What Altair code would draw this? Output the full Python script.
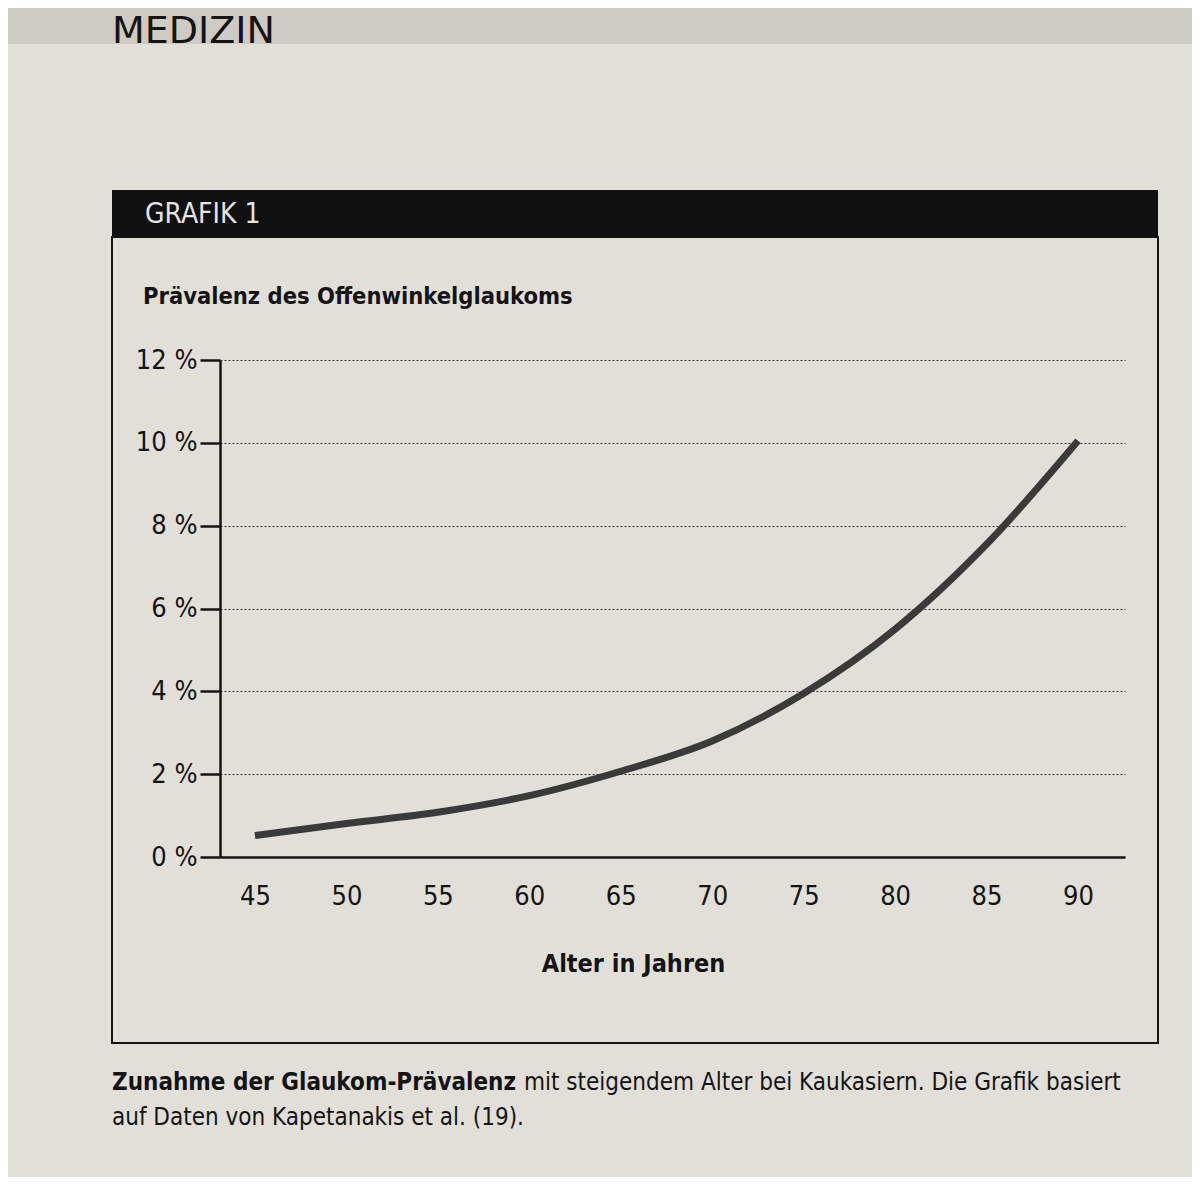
import altair as alt
import pandas as pd

# ---- data ----
ages = [45, 50, 55, 60, 65, 70, 75, 80, 85, 90]
prevalence = [0.52, 0.81, 1.08, 1.48, 2.07, 2.80, 3.95, 5.50, 7.55, 10.05]
y_ticks = [0, 2, 4, 6, 8, 10, 12]
x_ticks = [45, 50, 55, 60, 65, 70, 75, 80, 85, 90]

title_text = "Prävalenz des Offenwinkelglaukoms"
x_title = "Alter in Jahren"
header_text = "GRAFIK 1"
section_text = "MEDIZIN"
caption_bold = "Zunahme der Glaukom-Prävalenz"
caption_rest = "mit steigendem Alter bei Kaukasiern. Die Grafik basiert"
caption_line2 = "auf Daten von Kapetanakis et al. (19)."

FONT = "DejaVu Sans Condensed, Liberation Sans, sans-serif"
INK = "#141414"
PAPER = "#e2dfd8"

df = pd.DataFrame({"age": ages, "prev": prevalence})
one = pd.DataFrame({"k": [0]})

curve = alt.Chart(df).mark_line(
    color="#3a3a3a", strokeWidth=7, interpolate="monotone"
).encode(
    x=alt.X(
        "age:Q",
        scale=alt.Scale(domain=[43.09, 92.57], nice=False, zero=False),
        axis=alt.Axis(
            values=x_ticks, title=x_title, grid=False, ticks=False,
            labelPadding=26, labelFontSize=27, labelFont=FONT, labelColor=INK,
            domainColor=INK, domainWidth=2.5,
            titleX=413, titleY=106, titleBaseline="middle", titleAlign="center",
            titleFontSize=25, titleFont=FONT, titleFontWeight="bold", titleColor=INK,
        ),
    ),
    y=alt.Y(
        "prev:Q",
        scale=alt.Scale(domain=[0, 12], nice=False),
        axis=alt.Axis(
            values=y_ticks, labelExpr="datum.value + ' %'", title=None,
            tickSize=20, tickWidth=2.5, tickColor=INK,
            domainWidth=2.5, domainColor=INK,
            labelPadding=3, labelFontSize=27, labelFont=FONT, labelColor=INK,
            labelBaseline="middle",
            grid=True, gridDash=[2, 2], gridColor="#333333", gridWidth=1.2,
        ),
    ),
)

band = alt.Chart(one).mark_rect(color="#cecbc5").encode(
    x=alt.value(-230), x2=alt.value(1000), y=alt.value(-360), y2=alt.value(-316)
)
frame = alt.Chart(one).mark_rect(fill="transparent", stroke=INK, strokeWidth=2).encode(
    x=alt.value(-108), x2=alt.value(938), y=alt.value(-123), y2=alt.value(683)
)
bar = alt.Chart(one).mark_rect(color="#111111").encode(
    x=alt.value(-108), x2=alt.value(938), y=alt.value(-170), y2=alt.value(-123)
)

def label(text, x, y, size, weight="normal", color=INK, font=FONT):
    return alt.Chart(one).mark_text(
        text=text, align="left", baseline="middle", fontSize=size,
        fontWeight=weight, color=color, font=font,
    ).encode(x=alt.value(x), y=alt.value(y))

texts = [
    label(section_text, -108, -328, 38, font="DejaVu Sans, sans-serif"),
    label(header_text, -75, -145, 28, color="#e4e4e4"),
    label(title_text, -77, -63, 23.5, weight="bold"),
    label(caption_bold, -108, 723, 24, weight="bold"),
    label(caption_rest, 304, 723, 24),
    label(caption_line2, -108, 758, 24),
]

chart = alt.layer(band, frame, bar, curve, *texts).properties(
    width=905,
    height=497,
    autosize=alt.AutoSizeParams(type="none"),
    padding={"left": 212, "top": 352, "right": 67, "bottom": 320},
    background=PAPER,
).configure_view(stroke=None)

chart.save("out.html", embed_options={"renderer": "svg", "actions": False})
